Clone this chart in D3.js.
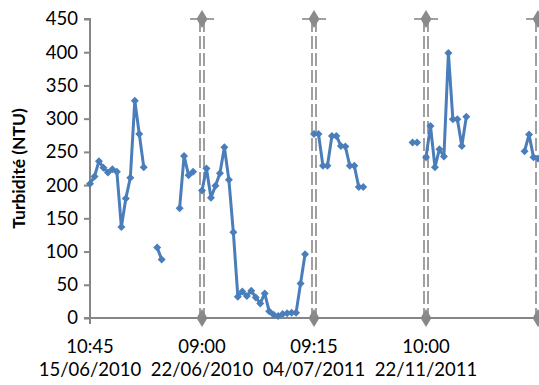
<!DOCTYPE html>
<html><head><meta charset="utf-8">
<script src="https://cdn.jsdelivr.net/npm/d3@7"></script>
<style>
html,body{margin:0;padding:0;background:#fff;}
svg{display:block;font-family:Lato,"Liberation Sans",sans-serif;}
</style></head>
<body>
<svg id="chart" width="539" height="385"></svg>
<script>
// ---- data ----
const nCategories = 101;
// turbidity values (NTU) by category index; null = no measurement
const session1 = [202,213,236,226,219,224,220,137,180,211,327,277,227,null,null,106,88,null,null,null,165,244,215,220,null];
const session2 = [192,225,181,199,218,257,208,129,32,40,33,41,31,22,37,10,5,3,6,7,8,8,52,96,null];
const session3 = [277,277,229,229,274,274,259,258,229,229,197,197,null,null,null,null,null,null,null,null,null,null,264,264,null];
const session4 = [242,289,227,254,243,399,299,299,259,303,null,null,null,null,null,null,null,null,null,null,null,null,251,276,242];
const session5 = [240];
const turbidity = [].concat(session1, session2, session3, session4, session5);
const separators = [25, 50, 75, 100];
const xTickIdx = [0, 25, 50, 75];
const xTickTime = ["10:45", "09:00", "09:15", "10:00"];
const xTickDate = ["15/06/2010", "22/06/2010", "04/07/2011", "22/11/2011"];
const yTicks = [0,50,100,150,200,250,300,350,400,450];
const yTitle = "Turbidité (NTU)";

(function draw() {
const svg = d3.select("#chart");
const mL = 90, mR = 538, mT = 19, mB = 318;
const x = d3.scalePoint().domain(d3.range(nCategories)).range([mL, mR]);
const y = d3.scaleLinear().domain([0, 450]).range([mB, mT]);
const axisColor = "#868686";
const fontSize = 18.5;

// separators (double dashed gray lines with diamonds)
const sepG = svg.append("g");
separators.forEach(i => {
  const cx = x(i);
  [-2, 2].forEach(off => {
    sepG.append("line").attr("x1", cx + off).attr("x2", cx + off)
      .attr("y1", y(450)).attr("y2", y(0))
      .attr("stroke", "#a0a0a0").attr("stroke-width", 2)
      .attr("stroke-dasharray", "13,4");
  });
  sepG.append("line").attr("x1", cx - 12).attr("x2", cx + 12)
    .attr("y1", y(450)).attr("y2", y(450))
    .attr("stroke", "#a0a0a0").attr("stroke-width", 2);
  [450, 0].forEach(v => {
    const cy = y(v);
    sepG.append("path")
      .attr("d", `M${cx},${cy-9}L${cx+5.5},${cy}L${cx},${cy+9}L${cx-5.5},${cy}Z`)
      .attr("fill", "#8a8a8a");
  });
});

// axes
const yAxis = d3.axisLeft(y).tickValues(yTicks).tickSize(6).tickPadding(6);
const gy = svg.append("g").attr("transform", `translate(${mL},0)`).call(yAxis);
gy.select(".domain").attr("stroke", axisColor).attr("stroke-width", 2).attr("d", `M-6,${mT}H0V${mB}H-6`);
gy.selectAll(".tick line").attr("stroke", axisColor).attr("stroke-width", 2);
gy.selectAll(".tick text").attr("font-size", fontSize).attr("fill", "#000").attr("font-family", "Lato");

svg.append("line").attr("x1", mL).attr("x2", 539).attr("y1", mB).attr("y2", mB)
  .attr("stroke", axisColor).attr("stroke-width", 2);
xTickIdx.forEach((i, k) => {
  svg.append("line").attr("x1", x(i)).attr("x2", x(i)).attr("y1", mB).attr("y2", mB + 6)
    .attr("stroke", axisColor).attr("stroke-width", 2);
  svg.append("text").attr("x", x(i)).attr("y", 353).attr("text-anchor", "middle")
    .attr("font-size", fontSize).text(xTickTime[k]);
  svg.append("text").attr("x", x(i)).attr("y", 376).attr("text-anchor", "middle")
    .attr("font-size", fontSize).text(xTickDate[k]);
});

// y title
svg.append("text").attr("transform", `translate(25,${(mT+mB)/2}) rotate(-90)`)
  .attr("text-anchor", "middle").attr("font-size", 17.5).attr("font-weight", "bold").text(yTitle);

// series
const blue = "#4a7ebb";
const line = d3.line().defined(d => d.v != null).x(d => x(d.i)).y(d => y(d.v));
const pts = turbidity.map((v, i) => ({i, v}));
svg.append("path").datum(pts).attr("d", line).attr("fill", "none")
  .attr("stroke", blue).attr("stroke-width", 3).attr("stroke-linejoin", "round");
svg.append("g").selectAll("path").data(pts.filter(d => d.v != null)).join("path")
  .attr("d", d => { const cx = x(d.i), cy = y(d.v), r = 4; return `M${cx},${cy-r}L${cx+r},${cy}L${cx},${cy+r}L${cx-r},${cy}Z`; })
  .attr("fill", blue);
})();
</script>
</body></html>
